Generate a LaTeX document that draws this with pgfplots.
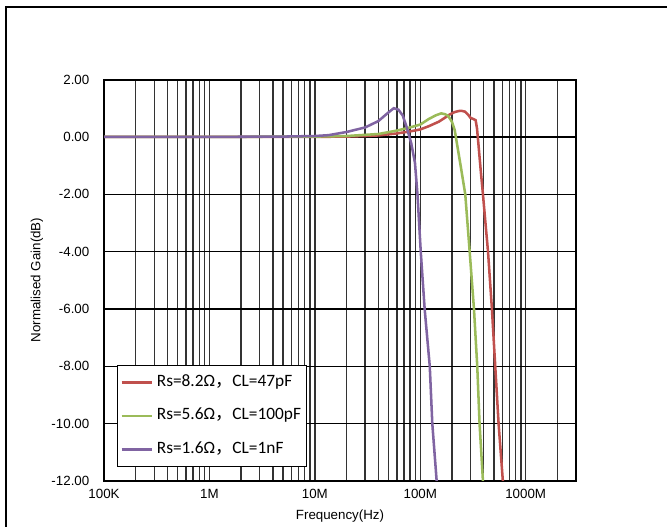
\documentclass[border=0pt]{standalone}
\usepackage{pgfplots}
\pgfplotsset{compat=1.18}
\usepackage{fontspec}
\setmainfont{Liberation Sans}
\newfontfamily\legendfont{Carlito}
\newfontfamily\cjk{Noto Sans CJK SC}

\definecolor{rsred}{HTML}{C0504D}
\definecolor{rsgreen}{HTML}{9BBB59}
\definecolor{rspurple}{HTML}{8064A2}

\begin{document}
\begin{tikzpicture}[x=0.75pt,y=0.75pt]
\useasboundingbox (0,0) rectangle (667,527);
% outer chart frame
\draw[line width=0.9pt] (6,-5) -- (6,520) -- (672,520);

\begin{axis}[
  at={(78pt,34.5pt)}, anchor=south west,
  scale only axis, width=354pt, height=301.1pt,
  xmode=log, log basis x=10,
  xmin=1e5, xmax=3e9, ymin=-12, ymax=2,
  xtick={1e5,1e6,1e7,1e8,1e9},
  xticklabels={100K,1M,10M,100M,1000M},
  minor xtick={2e5,3e5,4e5,5e5,6e5,7e5,8e5,9e5,
               2e6,3e6,4e6,5e6,6e6,7e6,8e6,9e6,
               2e7,3e7,4e7,5e7,6e7,7e7,8e7,9e7,
               2e8,3e8,4e8,5e8,6e8,7e8,8e8,9e8,2e9},
  ytick={-12,-10,-8,-6,-4,-2,0,2},
  yticklabels={-12.00,-10.00,-8.00,-6.00,-4.00,-2.00,0.00,2.00},
  grid=both,
  grid style={line width=1.05pt},
  every axis x grid/.style={black!80},
  every axis y grid/.style={black},
  major tick length=0pt, minor tick length=0pt,
  axis line style={line width=1.5pt, black},
  tick label style={font=\fontsize{10}{12}\selectfont},
  yticklabel style={xshift=-7.5pt},
  xticklabel style={yshift=-2.7pt},
  legend cell align=left,
  legend image code/.code={\draw[#1] (0pt,0pt) -- (22.5pt,0pt);},
  legend style={
    at={(0.0282,0.0356)}, anchor=south west,
    draw=black, line width=0.7pt, fill=white,
    font=\legendfont\fontsize{13}{15}\selectfont,
    inner xsep=2pt, inner ysep=5pt,
    row sep=9.5pt, column sep=0.6pt,
    nodes={inner xsep=2.3pt, inner ysep=2pt, text height=8.8pt, text depth=2.7pt},
  },
]

% Rs = 8.2 Ohm, CL = 47 pF
\addplot[rsred, line width=1.9pt] coordinates {
  (1e5,0) (1e6,0) (1e7,0) (2e7,0.01) (3e7,0.03) (4e7,0.05) (6e7,0.12)
  (8e7,0.19) (1e8,0.26) (1.2e8,0.37) (1.5e8,0.53) (1.7e8,0.66) (1.9e8,0.78)
  (2.1e8,0.86) (2.3e8,0.9) (2.45e8,0.91) (2.65e8,0.88) (2.85e8,0.77)
  (3.0e8,0.66) (3.2e8,0.62) (3.35e8,0.58) (3.45e8,0.3) (3.55e8,-0.2)
  (3.6e8,-0.46) (3.75e8,-1.2) (3.93e8,-2) (4.15e8,-3) (4.39e8,-4)
  (4.78e8,-6) (5.14e8,-8) (5.53e8,-10) (6.07e8,-12)
};
\addlegendentry{Rs=8.2Ω{\cjk ，}CL=47pF}

% Rs = 5.6 Ohm, CL = 100 pF
\addplot[rsgreen, line width=1.9pt] coordinates {
  (1e5,0) (1e6,0) (1e7,0.01) (2e7,0.03) (4e7,0.1) (6e7,0.22) (8e7,0.33)
  (1e8,0.43) (1.2e8,0.62) (1.4e8,0.75) (1.58e8,0.82) (1.72e8,0.79)
  (1.84e8,0.73) (2.0e8,0.52) (2.12e8,0.24) (2.28e8,-0.46) (2.45e8,-1.15)
  (2.67e8,-2) (2.94e8,-4) (3.23e8,-6) (3.47e8,-8) (3.65e8,-10) (3.93e8,-12)
};
\addlegendentry{Rs=5.6Ω{\cjk ，}CL=100pF}

% Rs = 1.6 Ohm, CL = 1 nF
\addplot[rspurple, line width=1.9pt] coordinates {
  (1e5,0) (1e6,0) (5e6,0.01) (1e7,0.03) (1.35e7,0.06) (2e7,0.17) (3e7,0.33)
  (4e7,0.55) (4.8e7,0.8) (5.6e7,1.0) (6.2e7,0.95) (6.8e7,0.75) (7.4e7,0.36)
  (8.2e7,-0.22) (8.9e7,-0.9) (9.4e7,-2) (1.01e8,-4) (1.1e8,-6)
  (1.23e8,-8) (1.3e8,-10) (1.43e8,-12)
};
\addlegendentry{Rs=1.6Ω{\cjk ，}CL=1nF}
\end{axis}

\node[rotate=90, font=\fontsize{10}{12}\selectfont] at (37,247) {Normalised Gain(dB)};
\node[font=\fontsize{10}{12}\selectfont] at (340,11) {Frequency(Hz)};
\end{tikzpicture}
\end{document}
